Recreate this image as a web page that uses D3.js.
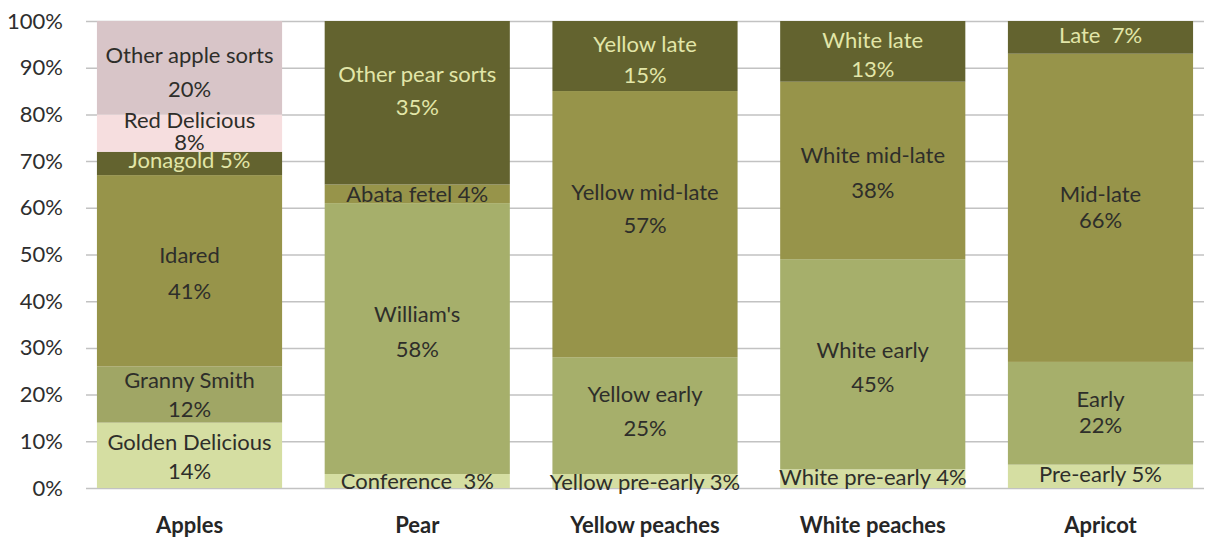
<!DOCTYPE html>
<html>
<head>
<meta charset="utf-8">
<script src="https://cdn.jsdelivr.net/npm/d3@7"></script>
<style>
  body { margin: 0; background: #fff; }
  svg text { font-family: Lato, "Open Sans", sans-serif; }
</style>
</head>
<body>
<script>
// chart data, bottom segment first
var categories = ["Apples", "Pear", "Yellow peaches", "White peaches", "Apricot"];

var appleSorts  = ["Golden Delicious", "Granny Smith", "Idared", "Jonagold", "Red Delicious", "Other apple sorts"];
var appleShares = [14, 12, 41, 5, 8, 20];

var pearSorts  = ["Conference", "William's", "Abata fetel", "Other pear sorts"];
var pearShares = [3, 58, 4, 35];

var yellowSorts  = ["Yellow pre-early", "Yellow early", "Yellow mid-late", "Yellow late"];
var yellowShares = [3, 25, 57, 15];

var whiteSorts  = ["White pre-early", "White early", "White mid-late", "White late"];
var whiteShares = [4, 45, 38, 13];

var apricotSorts  = ["Pre-early", "Early", "Mid-late", "Late"];
var apricotShares = [5, 22, 66, 7];

var yTicks = [0, 10, 20, 30, 40, 50, 60, 70, 80, 90, 100];

// styling per segment (fill, text colour, label layout)
var fills = {
  Apples: ["#d5dea2", "#a0a665", "#97944a", "#63632f", "#f6dedf", "#d8c5c8"],
  other:  ["#d5dea2", "#a6af6b", "#97944a", "#63632f"]
};
var light = "#e2e6a8", dark = "#2e2e2a";
// [single line?, name dy, pct dy, light text?] relative to segment centre
var layout = {
  Apples: [[0, -5, 24, 0], [0, -7, 22, 0], [0, -8, 28, 0], [1, 5, 0, 1], [0, -5, 17, 0], [0, -5, 29, 0]],
  Pear: [[1, 8, 0, 0], [0, -17, 18, 0], [1, 8, 0, 0], [0, -21, 12, 1]],
  "Yellow peaches": [[1, 9, 0, 0], [0, -14, 20, 0], [0, -24, 9, 0], [0, -4, 27, 1]],
  "White peaches": [[1, 6, 0, 0], [0, -6, 28, 0], [0, -7, 28, 0], [0, -3, 26, 1]],
  Apricot: [[1, 6, 0, 0], [0, -6, 20, 0], [0, -6, 20, 0], [1, 6, 0, 1]]
};

var width = 1205, height = 537;

var svg = d3.select("body").append("svg")
  .attr("width", width)
  .attr("height", height);

var y = d3.scaleLinear().domain([0, 100]).range([488, 21]);
var x = d3.scaleBand().domain(categories)
  .range([86, 1204])
  .paddingInner(0.187)
  .paddingOuter(0.048);

// gridlines + tick labels
var yAxis = svg.append("g")
  .attr("transform", "translate(86,0)")
  .call(d3.axisLeft(y).tickValues(yTicks)
    .tickSize(-(1204 - 86))
    .tickPadding(23)
    .tickFormat(function(d) { return d + "%"; }));
yAxis.select(".domain").remove();
yAxis.selectAll(".tick line").attr("stroke", "#c2c2c2").attr("stroke-width", 1.5);
yAxis.selectAll(".tick text")
  .attr("fill", "#2e2e2e")
  .style("font-size", "22px");

// build stacked segments
var groups = [
  [appleSorts, appleShares],
  [pearSorts, pearShares],
  [yellowSorts, yellowShares],
  [whiteSorts, whiteShares],
  [apricotSorts, apricotShares]
];
var segments = [];
groups.forEach(function(g, ci) {
  var cat = categories[ci], base = 0;
  g[0].forEach(function(name, i) {
    segments.push({
      cat: cat, name: name, value: g[1][i],
      y0: base, y1: base + g[1][i],
      fill: (fills[cat] || fills.other)[i],
      lay: layout[cat][i]
    });
    base += g[1][i];
  });
});

svg.append("clipPath").attr("id", "plotclip")
  .append("rect").attr("x", 0).attr("y", 0).attr("width", width).attr("height", y(0) + 1);

svg.append("g").selectAll("rect")
  .data(segments)
  .enter().append("rect")
  .attr("x", function(d) { return x(d.cat); })
  .attr("width", x.bandwidth())
  .attr("y", function(d) { return y(d.y1); })
  .attr("height", function(d) { return y(d.y0) - y(d.y1); })
  .attr("fill", function(d) { return d.fill; });

// segment labels
var labels = svg.append("g").selectAll("g")
  .data(segments)
  .enter().append("g")
  .attr("transform", function(d) {
    return "translate(" + (x(d.cat) + x.bandwidth() / 2) + "," + y((d.y0 + d.y1) / 2) + ")";
  })
  .attr("clip-path", function(d) { return d.name === "Conference" ? "url(#plotclip)" : null; })
  .style("font-size", "22px")
  .attr("text-anchor", "middle")
  .attr("fill", function(d) { return d.lay[3] ? light : dark; });

labels.each(function(d) {
  var g = d3.select(this);
  if (d.lay[0]) {
    var sep = (d.name === "Late" || d.name === "Conference") ? "\u00a0\u00a0" : " ";
    g.append("text").attr("y", d.lay[1]).text(d.name + sep + d.value + "%");
  } else {
    g.append("text").attr("y", d.lay[1]).text(d.name);
    g.append("text").attr("y", d.lay[2]).text(d.value + "%");
  }
});

// clip path needs absolute coords; re-apply clip on a wrapper for Conference
labels.filter(function(d) { return d.name === "Conference"; })
  .attr("clip-path", null)
  .each(function() {
    var node = this;
    var wrap = svg.append("g").attr("clip-path", "url(#plotclip)");
    wrap.node().appendChild(node);
  });

// category labels
svg.append("g").selectAll("text")
  .data(categories)
  .enter().append("text")
  .attr("x", function(d) { return x(d) + x.bandwidth() / 2; })
  .attr("y", 533)
  .attr("text-anchor", "middle")
  .attr("fill", "#262626")
  .style("font-size", "22px")
  .style("font-weight", "bold")
  .text(function(d) { return d; });
</script>
</body>
</html>
